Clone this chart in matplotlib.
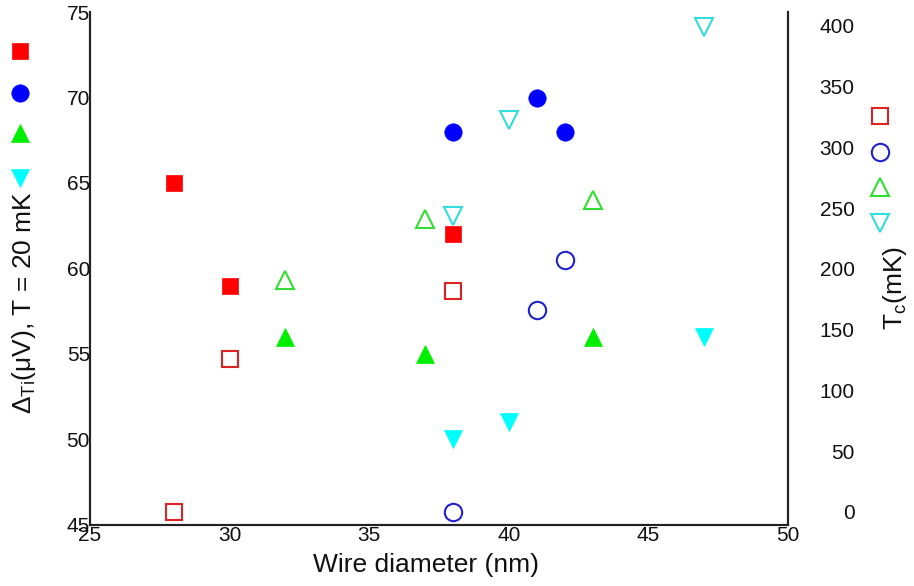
import matplotlib
matplotlib.use("Agg")
import matplotlib.pyplot as plt
from matplotlib.lines import Line2D

plt.rcParams['font.family'] = ['Liberation Sans', 'DejaVu Sans']
plt.rcParams['mathtext.fontset'] = 'custom'
plt.rcParams['mathtext.rm'] = 'Liberation Sans'
plt.rcParams['mathtext.it'] = 'Liberation Sans:italic'

# Gap at 20 mK (left axis, filled markers)
gap_sq_x = [28, 30, 38]
gap_sq_y = [65, 59, 62]
gap_ci_x = [38, 41, 42]
gap_ci_y = [68, 70, 68]
gap_up_x = [32, 37, 43]
gap_up_y = [56, 55, 56]
gap_dn_x = [38, 40, 47]
gap_dn_y = [50, 51, 56]

# Critical temperature (right axis, open markers)
tc_sq_x = [28, 30, 38]
tc_sq_y = [0, 126, 182]
tc_ci_x = [38, 41, 42]
tc_ci_y = [0, 166, 207]
tc_up_x = [32, 37, 43]
tc_up_y = [191, 241, 257]
tc_dn_x = [38, 40, 47]
tc_dn_y = [244, 323, 399]

x_ticks = [25, 30, 35, 40, 45, 50]
left_ticks = [45, 50, 55, 60, 65, 70, 75]
right_ticks = [0, 50, 100, 150, 200, 250, 300, 350, 400]

W, H = 914, 586
fig = plt.figure(figsize=(W / 100, H / 100), dpi=100)
L, R, B, T = 90, 788, 525, 12
ax = fig.add_axes([L / W, 1 - B / H, (R - L) / W, (B - T) / H])
ax2 = ax.twinx()

fill_styles = [
    ('s', '#FF0000', 11, gap_sq_x, gap_sq_y),
    ('o', '#0000FF', 12.5, gap_ci_x, gap_ci_y),
    ('^', '#00EE00', 13, gap_up_x, gap_up_y),
    ('v', '#00FFFF', 13, gap_dn_x, gap_dn_y),
]
open_styles = [
    ('s', '#DD2222', 11, tc_sq_x, tc_sq_y),
    ('o', '#2222CC', 12.5, tc_ci_x, tc_ci_y),
    ('^', '#33DD33', 13, tc_up_x, tc_up_y),
    ('v', '#33DDDD', 13, tc_dn_x, tc_dn_y),
]

for m, c, s, xs, ys in fill_styles:
    ax.plot(xs, ys, linestyle='none', marker=m, markersize=s,
            markerfacecolor=c, markeredgecolor=c, markeredgewidth=0.5)
for m, c, s, xs, ys in open_styles:
    ax2.plot(xs, ys, linestyle='none', marker=m, markersize=s,
             markerfacecolor='none', markeredgecolor=c, markeredgewidth=1.5)

ax.set_xlim(25, 50)
ax.set_ylim(45, 75)
ax2.set_ylim(-10.7, 411.5)
ax.set_xticks(x_ticks)
ax.set_yticks(left_ticks)
ax2.set_yticks(right_ticks)

for a in (ax, ax2):
    a.spines['top'].set_visible(False)
    for sp in a.spines.values():
        sp.set_linewidth(1.5)
        sp.set_color('#222222')
    a.set_facecolor('none')

ax.tick_params(axis='both', length=0, labelsize=15, colors='#111111')
ax.tick_params(axis='y', pad=0)
ax.tick_params(axis='x', pad=1)
ax2.tick_params(axis='y', length=0, labelsize=15, pad=48, colors='#111111')
for lab in ax2.get_yticklabels():
    lab.set_horizontalalignment('right')

# Axis titles
fig.text(426 / W, 1 - 565 / H, 'Wire diameter (nm)', fontsize=19,
         ha='center', va='center', color='#111111')
fig.text(24 / W, 1 - 303 / H, 'Δ$_{\\mathrm{Ti}}$(μV), T = 20 mK', fontsize=19,
         rotation=90, ha='center', va='center', color='#111111')
fig.text(895 / W, 1 - 288 / H, 'T$_{\\mathrm{c}}$(mK)', fontsize=19,
         rotation=90, ha='center', va='center', color='#111111')

# Marker keys beside each axis
left_key_y = [51, 93, 133, 178]
right_key_y = [116, 152, 187, 223]
for (m, c, s, _, _), yy in zip(fill_styles, left_key_y):
    fig.add_artist(Line2D([20 / W], [1 - yy / H], transform=fig.transFigure,
                          linestyle='none', marker=m, markersize=s,
                          markerfacecolor=c, markeredgecolor=c, markeredgewidth=0.5))
for (m, c, s, _, _), yy in zip(open_styles, right_key_y):
    fig.add_artist(Line2D([880 / W], [1 - yy / H], transform=fig.transFigure,
                          linestyle='none', marker=m, markersize=s,
                          markerfacecolor='none', markeredgecolor=c, markeredgewidth=1.5))

fig.savefig('out.png', dpi=100)
